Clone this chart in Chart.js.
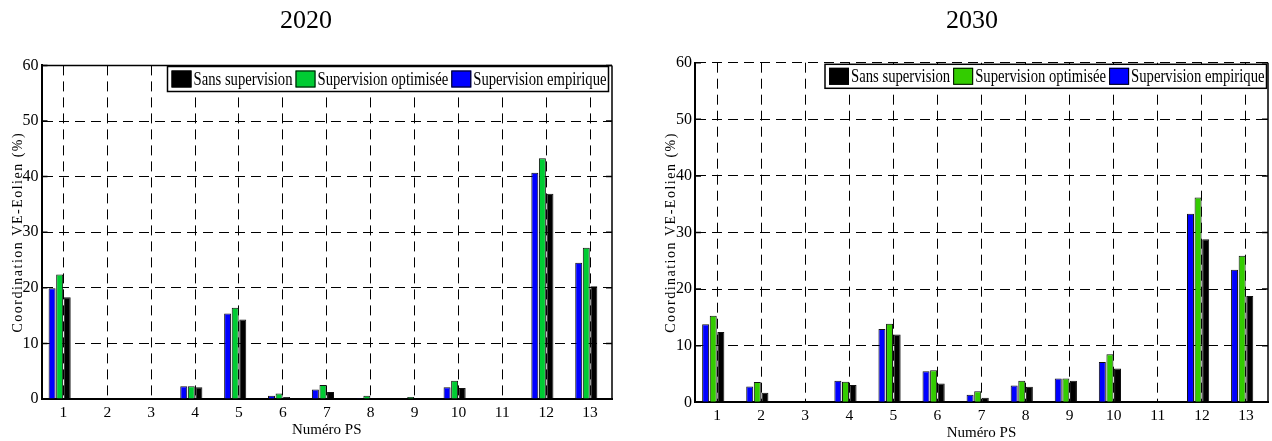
<!DOCTYPE html>
<html><head><meta charset="utf-8">
<script src="https://cdn.jsdelivr.net/npm/chart.js@4.4.1/dist/chart.umd.min.js"></script>
<style>
html,body{margin:0;padding:0;background:#fff;overflow:hidden}
#w{position:relative;width:1272px;height:441px;background:#fff}
.c{position:absolute;top:0;width:636px;height:441px}
</style></head><body>
<div id="w">
  <div class="c" style="left:0"><canvas id="c1"></canvas></div>
  <div class="c" style="left:636px"><canvas id="c2"></canvas></div>
</div>
<script>
// ---- data ----
const categories = ['1','2','3','4','5','6','7','8','9','10','11','12','13'];
const seriesLabels = ['Sans supervision', 'Supervision optimisée', 'Supervision empirique'];
const chartTitles = ['2020', '2030'];
const yAxisTitle = 'Coordination VE-Eolien (%)';
const xAxisTitle = 'Numéro PS';

// 2020
const sans2020 = [18.3, 0, 0, 2.1, 14.3, 0.36, 1.25, 0.05, 0.12, 2.0, 0, 36.9, 20.3];
const opt2020  = [22.4, 0, 0, 2.3, 16.4, 1.0, 2.5, 0.6, 0.36, 3.3, 0, 43.3, 27.2];
const emp2020  = [19.9, 0, 0, 2.3, 15.4, 0.6, 1.7, 0.15, 0.08, 2.1, 0, 40.7, 24.5];
// 2030
const sans2030 = [12.4, 1.7, 0, 3.05, 12.0, 3.3, 0.82, 2.75, 3.8, 5.95, 0, 28.8, 18.8];
const opt2030  = [15.3, 3.6, 0, 3.65, 13.9, 5.65, 1.95, 3.8, 4.2, 8.5, 0, 36.2, 25.9];
const emp2030  = [13.8, 2.8, 0, 3.8, 12.95, 5.5, 1.35, 2.95, 4.2, 7.1, 0, 33.3, 23.4];
// empty 4th slot of each group (the original plot leaves it blank)
const gapSlot  = [null, null, null, null, null, null, null, null, null, null, null, null, null];

const FONT = "'Liberation Serif', 'DejaVu Serif', serif";

const decor = {
  id: 'decor',
  afterDraw(chart, args, o) {
    const ctx = chart.ctx, a = chart.chartArea;
    ctx.save();
    // frame: right border (and top for first chart)
    ctx.strokeStyle = '#000';
    ctx.lineWidth = 1.5;
    ctx.setLineDash([]);
    ctx.beginPath();
    ctx.moveTo(a.right, a.top); ctx.lineTo(a.right, a.bottom);
    if (o.solidTop) { ctx.moveTo(a.left, a.top); ctx.lineTo(a.right, a.top); }
    ctx.stroke();
    // inward y tick marks
    const ys = chart.scales.y;
    ys.ticks.forEach(t => {
      const py = ys.getPixelForValue(t.value);
      ctx.beginPath();
      ctx.moveTo(a.left, py); ctx.lineTo(a.left + 6, py);
      ctx.moveTo(a.right, py); ctx.lineTo(a.right - 6, py);
      ctx.stroke();
    });
    // chart title
    ctx.fillStyle = '#000';
    ctx.font = '26px ' + FONT;
    ctx.textAlign = 'center';
    ctx.textBaseline = 'alphabetic';
    ctx.fillText(o.title, o.titleX, o.titleY);
    // y axis title (letter spaced, rotated)
    ctx.save();
    ctx.translate(o.yTitleX, (a.top + a.bottom) / 2);
    ctx.rotate(-Math.PI / 2);
    ctx.font = '14px ' + FONT;
    try { ctx.letterSpacing = '1.5px'; } catch (e) {}
    ctx.textAlign = 'center';
    ctx.textBaseline = 'middle';
    ctx.fillText(yAxisTitle, 0, 0);
    ctx.restore();
    // legend box inside the plot
    const L = o.legend;
    ctx.fillStyle = '#fff';
    ctx.fillRect(L.x, L.y, L.w, L.h);
    ctx.strokeStyle = '#000';
    ctx.lineWidth = 1.5;
    ctx.strokeRect(L.x, L.y, L.w, L.h);
    const items = chart.data.datasets.filter(d => d.label).slice().reverse();
    ctx.font = '19.5px ' + FONT;
    const widths = items.map(d => ctx.measureText(d.label).width);
    const sq = 20, sqH = 17, pad = 4, gapST = 2, gapTS = 3;
    const avail = L.w - pad - 2 - items.length * (sq + gapST) - (items.length - 1) * gapTS;
    const sx = avail / widths.reduce((s, w) => s + w, 0);
    let x = L.x + pad;
    const sqY = L.y + (L.h - sqH) / 2;
    items.forEach((d, i) => {
      ctx.fillStyle = d.backgroundColor;
      ctx.fillRect(x, sqY, sq, sqH);
      ctx.lineWidth = 1;
      ctx.strokeStyle = '#000';
      ctx.strokeRect(x + 0.5, sqY + 0.5, sq - 1, sqH - 1);
      x += sq + gapST;
      ctx.save();
      ctx.translate(x, L.y + L.h / 2 + 1);
      ctx.scale(sx, 1);
      ctx.fillStyle = '#000';
      ctx.textAlign = 'left';
      ctx.textBaseline = 'middle';
      ctx.fillText(d.label, 0, 0);
      ctx.restore();
      x += widths[i] * sx + gapTS;
    });
    ctx.restore();
  }
};

function makeChart(id, sans, opt, emp, green, g) {
  return new Chart(document.getElementById(id), {
    type: 'bar',
    data: {
      labels: categories,
      datasets: [
        { label: seriesLabels[2], data: emp, backgroundColor: '#0000FF' },
        { label: seriesLabels[1], data: opt, backgroundColor: green },
        { label: seriesLabels[0], data: sans, backgroundColor: '#000000' },
        { label: '', data: gapSlot, backgroundColor: 'rgba(0,0,0,0)' }
      ]
    },
    plugins: [decor],
    options: {
      responsive: true,
      maintainAspectRatio: false,
      animation: false,
      devicePixelRatio: 1,
      layout: { padding: { top: g.top, right: g.right, left: 0, bottom: 0 } },
      datasets: { bar: { categoryPercentage: 0.69, barPercentage: 0.92, borderColor: '#111', borderWidth: 1 } },
      scales: {
        x: {
          offset: true,
          grid: { offset: false, drawTicks: false, color: '#000', lineWidth: 1 },
          border: { display: true, color: '#000', width: 2, dash: [10, 6] },
          ticks: { padding: g.xPad, color: '#000', font: { family: FONT, size: 15.5 } },
          title: { display: true, text: xAxisTitle, color: '#000', font: { family: FONT, size: 15, lineHeight: 1 }, padding: { top: 0, bottom: g.xTitleBottom } },
          afterFit(s) { s.height = g.xHeight; }
        },
        y: {
          min: 0, max: 60,
          grid: { drawTicks: false, color: '#000', lineWidth: 1 },
          border: { display: true, color: '#000', width: 2, dash: [10, 6] },
          ticks: { stepSize: 10, padding: 3, color: '#000', font: { family: FONT, size: 16 } },
          afterFit(s) { s.width = g.yWidth; }
        }
      },
      plugins: {
        legend: { display: false },
        tooltip: { enabled: false },
        decor: g.decor
      }
    }
  });
}

makeChart('c1', sans2020, opt2020, emp2020, '#00CC33', {
  top: 65.4, right: 24, yWidth: 41.5, xHeight: 42, xPad: 5, xTitleBottom: 3.5,
  decor: { title: chartTitles[0], titleX: 306, titleY: 28, yTitleX: 18.4, solidTop: true,
           legend: { x: 167.5, y: 66.5, w: 441, h: 25 } }
});
makeChart('c2', sans2030, opt2030, emp2030, '#33CC00', {
  top: 62.7, right: 4, yWidth: 59, xHeight: 38.7, xPad: 4, xTitleBottom: 0.5,
  decor: { title: chartTitles[1], titleX: 336, titleY: 28, yTitleX: 35, solidTop: false,
           legend: { x: 189, y: 64.3, w: 441.5, h: 24 } }
});
</script>
</body></html>
